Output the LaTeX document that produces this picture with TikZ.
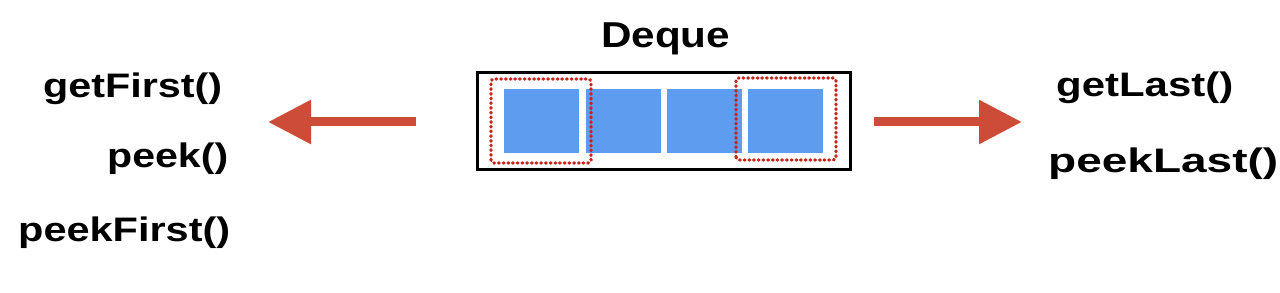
\documentclass[tikz,border=0pt]{standalone}
\usepackage{fontspec}
\setmainfont{Liberation Sans}
\usetikzlibrary{arrows.meta}
\definecolor{cellblue}{RGB}{93,156,238}
\definecolor{arrred}{RGB}{204,76,56}
\definecolor{dotred}{RGB}{196,38,28}
\newcommand{\lbl}[3]{\resizebox{#1pt}{\height}{\fontsize{#2}{#2}\selectfont\bfseries #3}}
\tikzset{
  cell/.style={fill=cellblue, draw=none},
  pick/.style={draw=dotred, line width=3.2pt, line cap=round, dash pattern=on 0.8pt off 3.9pt, rounded corners=3pt},
  bigarrow/.style={draw=arrred, line width=9pt, -{Triangle[length=43pt,width=42pt,fill=arrred]}},
  txt/.style={inner sep=0pt, text=black}
}
\begin{document}
\begin{tikzpicture}[x=1pt,y=1pt]
\useasboundingbox (0,0) rectangle (1280,292);
% outer box
\node[draw=black, line width=3pt, minimum width=373pt, minimum height=97pt, inner sep=0pt] (box) at (663.5,170.5) {};
% cells
\node[cell, minimum width=75pt, minimum height=64pt, inner sep=0pt] (c1) at (541.5,171) {};
\node[cell, minimum width=75pt, minimum height=64pt, inner sep=0pt] (c2) at (623.5,171) {};
\node[cell, minimum width=75pt, minimum height=64pt, inner sep=0pt] (c3) at (704.5,171) {};
\node[cell, minimum width=75pt, minimum height=64pt, inner sep=0pt] (c4) at (785.5,171) {};
% dotted selections
\draw[pick] (491,129) rectangle (591,213);
\draw[pick] (736,132) rectangle (836,214);
% title
\node[txt, anchor=base west] (title) at (601,244) {\lbl{129}{36}{Deque}};
% arrows
\coordinate (la) at (416,170);
\coordinate (lb) at (268,170);
\coordinate (ra) at (874,170);
\coordinate (rb) at (1022,170);
\draw[bigarrow] (la) -- (lb);
\draw[bigarrow] (ra) -- (rb);
% left labels
\node[txt, anchor=base west] (gf) at (43,194) {\lbl{179}{34}{getFirst()}};
\node[txt, anchor=base west] (pk) at (107,124) {\lbl{121}{34}{peek()}};
\node[txt, anchor=base west] (pf) at (18,50) {\lbl{212}{34}{peekFirst()}};
% right labels
\node[txt, anchor=base west] (gl) at (1056,195) {\lbl{177}{34}{getLast()}};
\node[txt, anchor=base west] (pl) at (1048,119) {\lbl{230}{34}{peekLast()}};
\end{tikzpicture}
\end{document}
